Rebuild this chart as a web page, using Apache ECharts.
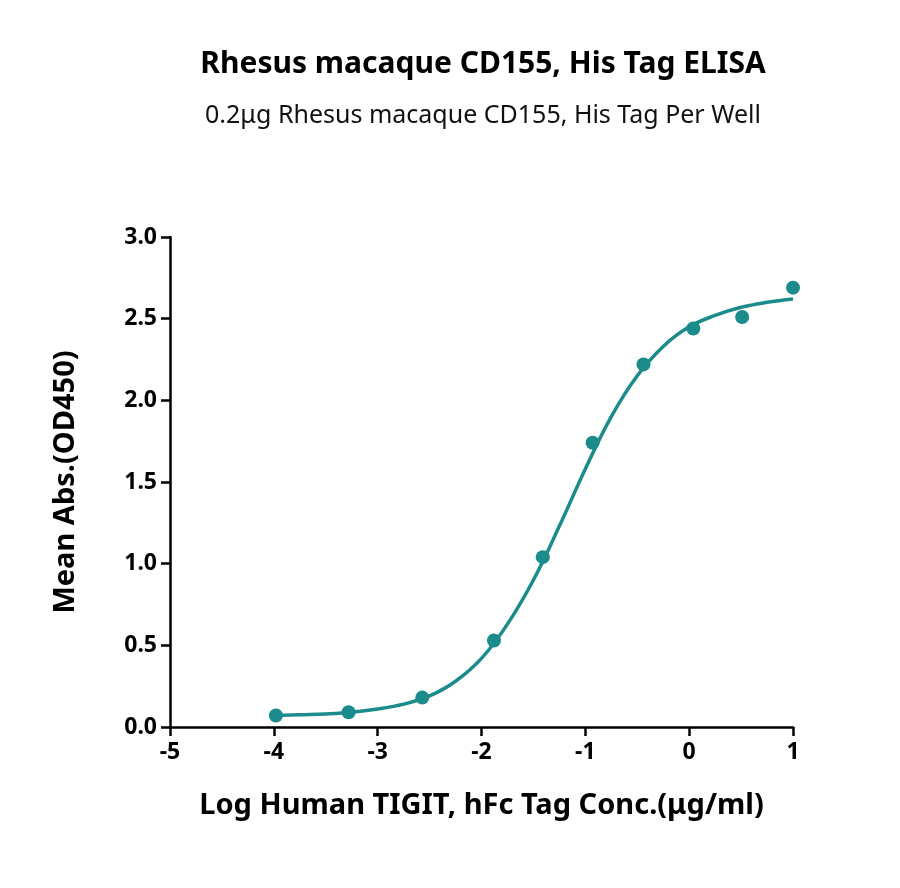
<!DOCTYPE html><html><head><meta charset="utf-8"><script src="https://cdn.jsdelivr.net/npm/echarts@6/dist/echarts.min.js"></script></head><body style="margin:0"><div id="c" style="width:900px;height:888px"></div><script>
const pointX=[-3.98,-3.28,-2.57,-1.88,-1.41,-0.93,-0.44,0.04,0.51,1.0];
const pointY=[0.07,0.09,0.18,0.53,1.04,1.74,2.22,2.44,2.51,2.69];
const curveX=[-4,-3.75,-3.5,-3.25,-3,-2.75,-2.5,-2.25,-2,-1.75,-1.5,-1.25,-1,-0.75,-0.5,-0.25,0,0.25,0.5,0.75,1];
const curveY=[0.07,0.075,0.08,0.09,0.11,0.14,0.19,0.28,0.42,0.63,0.90,1.23,1.58,1.90,2.15,2.33,2.45,2.52,2.57,2.60,2.62];
const col='#1b8b8b';
const f='"Noto Sans", "Open Sans", sans-serif';
echarts.init(document.getElementById('c')).setOption({
title:[{text:'Rhesus macaque CD155, His Tag ELISA',left:478,top:44,textAlign:'center',textStyle:{fontFamily:f,fontWeight:'bold',fontSize:30,color:'#000'}},
{text:'0.2μg Rhesus macaque CD155, His Tag Per Well',left:478,top:98,textAlign:'center',textStyle:{fontFamily:f,fontWeight:'normal',fontSize:25,color:'#111'}}],
grid:{left:170,right:107,top:237,bottom:161},
xAxis:{type:'value',min:-5,max:1,interval:1,name:'Log Human TIGIT, hFc Tag Conc.(μg/ml)',nameLocation:'middle',nameGap:64,
nameTextStyle:{fontFamily:f,fontWeight:'bold',fontSize:29,color:'#000'},splitLine:{show:false},
axisLine:{lineStyle:{color:'#000',width:2.5}},axisTick:{length:9,lineStyle:{width:2.5,color:'#000'}},
axisLabel:{fontFamily:f,fontWeight:'bold',fontSize:23,color:'#000',margin:14}},
yAxis:{type:'value',min:0,max:3,interval:0.5,name:'Mean Abs.(OD450)',nameLocation:'middle',nameGap:90,
nameTextStyle:{fontFamily:f,fontWeight:'bold',fontSize:29,color:'#000'},splitLine:{show:false},
axisLine:{show:true,onZero:false,lineStyle:{color:'#000',width:2.5}},axisTick:{show:true,length:9,lineStyle:{width:2.5,color:'#000'}},
axisLabel:{fontFamily:f,fontWeight:'bold',fontSize:23,color:'#000',margin:13,formatter:v=>v.toFixed(1)}},
series:[{type:'line',smooth:0.4,showSymbol:false,data:curveX.map((x,i)=>[x,curveY[i]]),lineStyle:{color:col,width:3.5}},
{type:'scatter',symbolSize:14,data:pointX.map((x,i)=>[x,pointY[i]]),itemStyle:{color:col,opacity:1}}]
});
</script></body></html>
